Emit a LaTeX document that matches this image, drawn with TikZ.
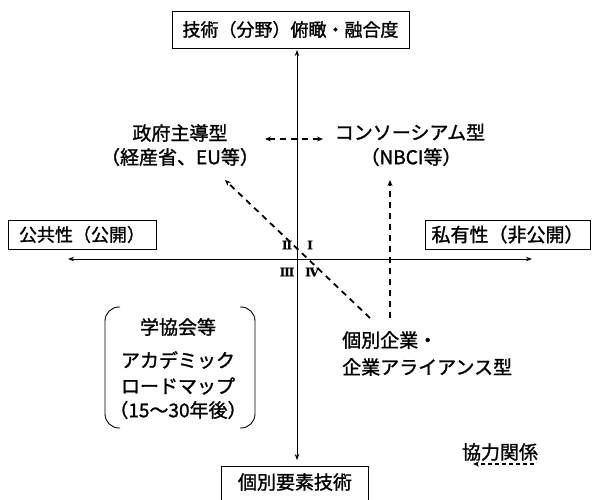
\documentclass[tikz,border=0pt]{standalone}
\usepackage{fontspec}
\setmainfont{Noto Sans CJK JP}[FakeBold=1.3]
\newfontfamily\romfont{DejaVu Serif}[FakeBold=0.8]
\usetikzlibrary{arrows.meta}
\begin{document}
\begin{tikzpicture}[x=1pt,y=-1pt,
  box/.style={draw, line width=0.8pt, inner sep=0pt, font=\fontsize{19}{22}\selectfont},
  lbl/.style={inner sep=0pt, font=\fontsize{19}{22}\selectfont},
  num/.style={inner sep=0pt, font=\romfont\bfseries\fontsize{12}{14}\selectfont},
  axis/.style={line width=0.8pt, {Stealth[length=6pt,width=4.5pt]}-{Stealth[length=6pt,width=4.5pt]}},
  coop/.style={line width=1.8pt, dash pattern=on 6pt off 5pt, -{Stealth[length=6pt,width=5pt]}},
  coopboth/.style={line width=1.8pt, dash pattern=on 6pt off 5pt, {Stealth[length=6pt,width=5pt]}-{Stealth[length=6pt,width=5pt]}},
  brk/.style={line width=0.9pt, rounded corners=14pt}
]
\clip (0,0) rectangle (592,499);
\fill[white] (0,0) rectangle (592,499);

% boxes
\node[box, minimum width=237pt, minimum height=37pt, font=\fontsize{18}{20}\selectfont] (top) at (290.5,29.5) {技術（分野）俯瞰・融合度};
\node[box, minimum width=148pt, minimum height=29pt, font=\fontsize{18}{20}\selectfont] (pub) at (82,234.5) {公共性（公開）};
\node[box, minimum width=165pt, minimum height=29pt] (priv) at (507.5,234.5) {私有性（非公開）};
\node[lbl, minimum width=146pt, minimum height=30pt] (bot) at (295,482) {個別要素技術};
\draw[line width=0.8pt] ([yshift=-40pt]bot.north west) -- (bot.north west) -- (bot.north east) -- ([yshift=-40pt]bot.north east);

% axes
\coordinate (vt) at (297,50);
\coordinate (vb) at (297,460);
\coordinate (hl) at (68,259);
\coordinate (hr) at (532,259);
\draw[axis] (vb) -- (vt);
\draw[axis] (hl) -- (hr);

% quadrant numerals
\node[num] (q2) at (287,245) {Ⅱ};
\node[num] (q1) at (310,245) {Ⅰ};
\node[num] (q3) at (287,272) {Ⅲ};
\node[num] (q4) at (312,272) {Ⅳ};

% labels
\node[lbl] (gov1) at (180,133) {政府主導型};
\node[lbl] (gov2) at (180,157) {（経産省、EU等）};
\node[lbl] (con1) at (410,132) {コンソーシアム型};
\node[lbl] (con2) at (411,157) {（NBCI等）};
\node[lbl, anchor=west] (ind1) at (342,340) {個別企業・};
\node[lbl, anchor=west] (ind2) at (342,367) {企業アライアンス型};

% academic bracket group
\node[lbl] (ac1) at (178,327) {学協会等};
\node[lbl] (ac2) at (178,360) {アカデミック};
\node[lbl] (ac3) at (178,386) {ロードマップ};
\node[lbl] (ac4) at (178,410) {（15〜30年後）};
\draw[brk] (120,307) -- (105,307) -- (105,428) -- (120,428);
\draw[brk] (240,307) -- (255,307) -- (255,428) -- (240,428);

% cooperation arrows
\coordinate (dA) at (370,318);
\coordinate (dB) at (225,180);
\coordinate (vA) at (390,318);
\coordinate (vB) at (390,180);
\coordinate (hA) at (265,139);
\coordinate (hB) at (323,139);
\draw[coop] (dA) -- (dB);
\draw[coop] (vA) -- (vB);
\draw[coopboth] (hA) -- (hB);

% legend
\node[lbl] (leg) at (500,452) {協力関係};
\coordinate (lA) at (534,464);
\coordinate (lB) at (473,464);
\draw[coop, line width=1.3pt, dash pattern=on 4pt off 3pt] (lA) -- (lB);
\end{tikzpicture}
\end{document}
